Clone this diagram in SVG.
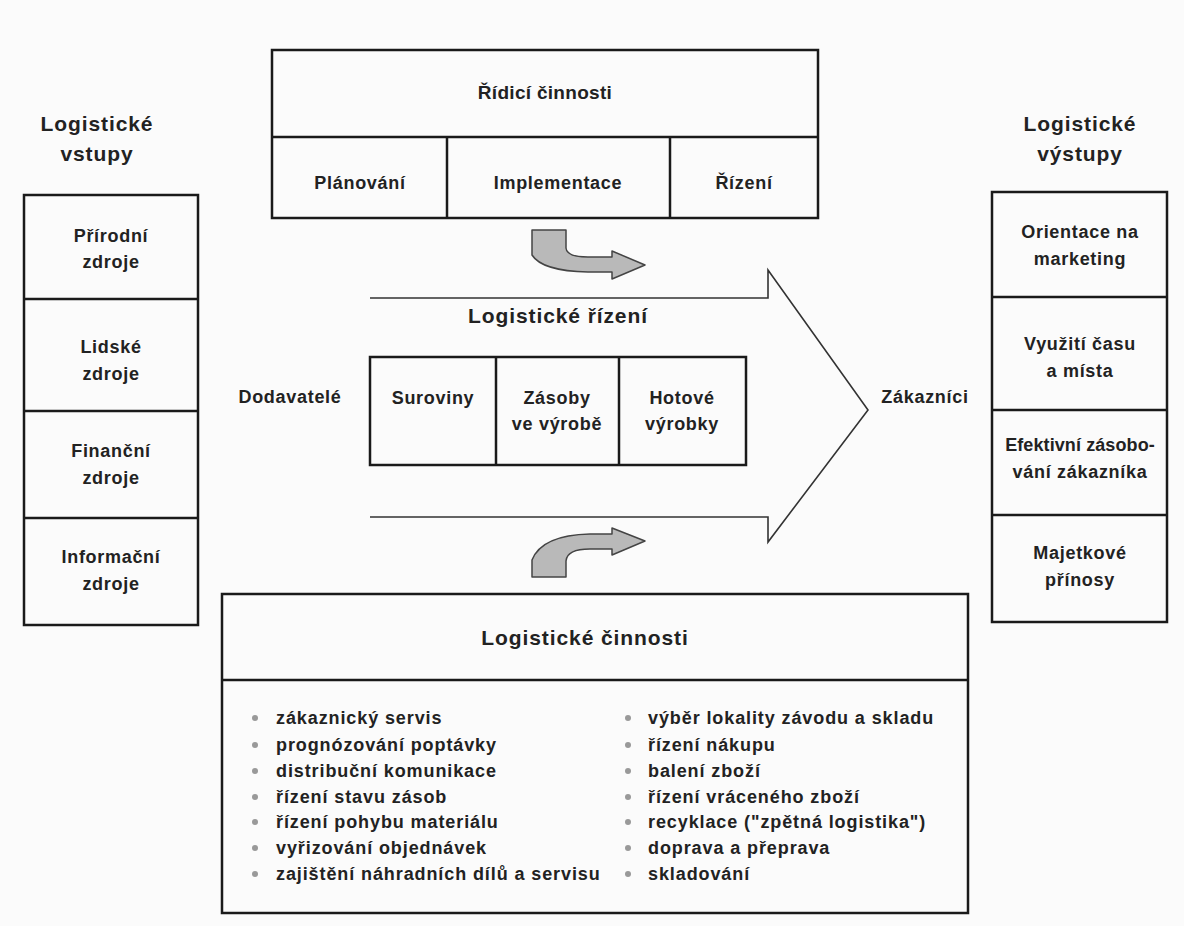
<svg xmlns="http://www.w3.org/2000/svg" width="1184" height="926" viewBox="0 0 1184 926">
<style>
.bx{fill:none;stroke:#1a1a1a;stroke-width:2.5}
.ln{stroke:#1a1a1a;stroke-width:2.5}
.t{font-family:"Liberation Sans",Arial,sans-serif;font-weight:bold;fill:#222;text-anchor:middle;font-size:18px;letter-spacing:0.7px}
.h{font-size:21px;letter-spacing:0.9px}
.li{font-family:"Liberation Sans",Arial,sans-serif;font-weight:bold;fill:#222;font-size:18px;letter-spacing:0.9px}
.bu{fill:#999}
.cur{fill:#b9b9b9;stroke:#444;stroke-width:1.5;stroke-linejoin:round}
</style>
<rect width="1184" height="926" fill="#fbfbfb"/>

<g id="ridici-cinnosti">
<rect class="bx" x="272" y="50" width="546" height="168"/>
<line class="ln" x1="272" y1="137" x2="818" y2="137"/>
<line class="ln" x1="447" y1="137" x2="447" y2="218"/>
<line class="ln" x1="670" y1="137" x2="670" y2="218"/>
<text class="t" style="font-size:19px;letter-spacing:0.3px" x="545" y="99">Řídicí činnosti</text>
<text class="t" x="360" y="189">Plánování</text>
<text class="t" x="558" y="189">Implementace</text>
<text class="t" x="744" y="189">Řízení</text>
</g>

<g id="vstupy">
<text class="t h" x="97" y="131">Logistické</text>
<text class="t h" x="97" y="161">vstupy</text>
<rect class="bx" x="24" y="195" width="174" height="430"/>
<line class="ln" x1="24" y1="299" x2="198" y2="299"/>
<line class="ln" x1="24" y1="411" x2="198" y2="411"/>
<line class="ln" x1="24" y1="518" x2="198" y2="518"/>
<text class="t" x="111" y="242">Přírodní</text>
<text class="t" x="111" y="268">zdroje</text>
<text class="t" x="111" y="353">Lidské</text>
<text class="t" x="111" y="380">zdroje</text>
<text class="t" x="111" y="457">Finanční</text>
<text class="t" x="111" y="484">zdroje</text>
<text class="t" x="111" y="563">Informační</text>
<text class="t" x="111" y="590">zdroje</text>
</g>

<g id="vystupy">
<text class="t h" x="1080" y="131">Logistické</text>
<text class="t h" x="1080" y="161">výstupy</text>
<rect class="bx" x="992" y="192" width="175" height="430"/>
<line class="ln" x1="992" y1="297" x2="1167" y2="297"/>
<line class="ln" x1="992" y1="410" x2="1167" y2="410"/>
<line class="ln" x1="992" y1="515" x2="1167" y2="515"/>
<text class="t" x="1080" y="238">Orientace na</text>
<text class="t" x="1080" y="265">marketing</text>
<text class="t" x="1080" y="350">Využití času</text>
<text class="t" x="1080" y="377">a místa</text>
<text class="t" style="letter-spacing:0.1px" x="1080" y="451">Efektivní zásobo-</text>
<text class="t" x="1080" y="478">vání zákazníka</text>
<text class="t" x="1080" y="559">Majetkové</text>
<text class="t" x="1080" y="586">přínosy</text>
</g>

<g id="dodavatele"><text class="t" x="290" y="403">Dodavatelé</text></g>
<g id="zakaznici"><text class="t" x="925" y="403">Zákazníci</text></g>

<g id="logisticke-rizeni">
<path d="M370,298 L768,298 L768,270 L868,410 L768,542 L768,517 L370,517" fill="none" stroke="#333" stroke-width="1.6" stroke-linejoin="miter"/>
<text class="t h" x="558" y="323">Logistické řízení</text>
<rect class="bx" x="370" y="357" width="376" height="108"/>
<line class="ln" x1="496" y1="357" x2="496" y2="465"/>
<line class="ln" x1="619" y1="357" x2="619" y2="465"/>
<text class="t" x="433" y="404">Suroviny</text>
<text class="t" x="557" y="404">Zásoby</text>
<text class="t" x="557" y="430">ve výrobě</text>
<text class="t" x="682" y="404">Hotové</text>
<text class="t" x="682" y="430">výrobky</text>
</g>

<g id="connectors">
<path class="cur" d="M532,230 L566,230 L566,248 Q567,257 588,257 L612,257 L612,251 L645,265 L612,279 L612,272 L588,272 Q542,271 532,255 Z"/>
<path class="cur" d="M532,577 L566,577 L566,561 Q567,549 590,549 L612,549 L612,555 L645,541 L612,528 L612,534 L590,534 Q542,535 532,560 Z"/>
</g>

<g id="logisticke-cinnosti">
<rect class="bx" x="222" y="594" width="746" height="319"/>
<line class="ln" x1="222" y1="680" x2="968" y2="680"/>
<text class="t h" x="585" y="645">Logistické činnosti</text>
<g class="bu">
<circle cx="255" cy="718" r="3"/><circle cx="255" cy="745" r="3"/><circle cx="255" cy="771" r="3"/><circle cx="255" cy="797" r="3"/><circle cx="255" cy="822" r="3"/><circle cx="255" cy="848" r="3"/><circle cx="255" cy="874" r="3"/>
<circle cx="628" cy="718" r="3"/><circle cx="628" cy="745" r="3"/><circle cx="628" cy="771" r="3"/><circle cx="628" cy="797" r="3"/><circle cx="628" cy="822" r="3"/><circle cx="628" cy="848" r="3"/><circle cx="628" cy="874" r="3"/>
</g>
<text class="li" x="276" y="724">zákaznický servis</text>
<text class="li" x="276" y="751">prognózování poptávky</text>
<text class="li" x="276" y="777">distribuční komunikace</text>
<text class="li" x="276" y="803">řízení stavu zásob</text>
<text class="li" x="276" y="828">řízení pohybu materiálu</text>
<text class="li" x="276" y="854">vyřizování objednávek</text>
<text class="li" x="276" y="880">zajištění náhradních dílů a servisu</text>
<text class="li" x="648" y="724">výběr lokality závodu a skladu</text>
<text class="li" x="648" y="751">řízení nákupu</text>
<text class="li" x="648" y="777">balení zboží</text>
<text class="li" x="648" y="803">řízení vráceného zboží</text>
<text class="li" x="648" y="828">recyklace ("zpětná logistika")</text>
<text class="li" x="648" y="854">doprava a přeprava</text>
<text class="li" x="648" y="880">skladování</text>
</g>
</svg>
